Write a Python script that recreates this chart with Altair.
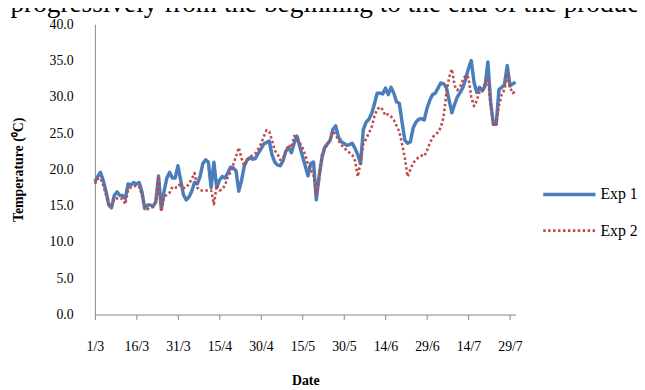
import json
import altair as alt
import pandas as pd

# ---- data ----
tick_labels = ['1/3', '16/3', '31/3', '15/4', '30/4', '15/5', '30/5', '14/6', '29/6', '14/7', '29/7']
tick_days = [0, 15, 30, 45, 60, 75, 90, 105, 120, 135, 150]
y_ticks = [0, 5, 10, 15, 20, 25, 30, 35, 40]
series_names = ['Exp 1', 'Exp 2']

exp1 = [
    18.3, 19.0, 19.6, 18.5, 17.0, 15.1, 14.7, 16.4, 16.9, 16.4,
    16.4, 16.0, 18.0, 17.8, 18.2, 18.0, 18.2, 16.9, 14.6, 15.1,
    15.1, 14.9, 15.5, 19.1, 14.5, 17.0, 18.8, 19.6, 18.8, 18.8,
    20.5, 18.5, 16.5, 15.8, 16.2, 17.0, 18.2, 18.0, 19.0, 20.8,
    21.3, 21.0, 17.5, 21.0, 17.5, 18.5, 19.0, 18.8, 19.5, 20.3,
    20.2, 19.8, 17.0, 18.5, 20.5, 21.3, 21.6, 21.4, 21.5, 22.2,
    22.8, 23.5, 23.7, 23.9, 22.0, 21.0, 20.6, 20.5, 21.2, 22.5,
    23.0, 22.3, 23.6, 24.6, 23.2, 21.8, 20.5, 19.1, 20.8, 21.0,
    15.8, 19.0, 21.5, 23.0, 23.5, 24.0, 25.5, 26.0, 24.5, 23.8,
    23.6, 23.3, 23.4, 23.6, 22.9, 22.0, 20.8, 25.5, 26.5, 26.9,
    27.7, 29.0, 30.5, 30.5, 30.4, 31.2, 30.3, 31.3, 30.5, 29.3,
    29.1, 26.5, 24.0, 23.6, 23.8, 25.7, 26.5, 26.9, 27.0, 26.8,
    28.4, 29.5, 30.3, 30.5, 31.2, 31.9, 31.8, 31.3, 29.5, 27.8,
    29.0, 30.0, 30.6, 31.3, 32.5, 33.9, 35.0, 32.0, 30.6, 31.3,
    30.8, 31.5, 34.8, 29.3, 26.2, 26.2, 31.0, 31.3, 31.7, 34.3,
    31.5, 31.8, 32.0,
]

exp2 = [
    18.0, 18.7, 18.8, 17.8, 16.5, 15.3, 14.9, 16.0, 16.0, 16.1,
    15.9, 15.2, 17.2, 17.5, 17.6, 17.8, 17.6, 16.4, 15.0, 14.5,
    14.8, 14.8, 15.5, 19.0, 14.2, 16.2, 16.5, 16.8, 17.6, 17.5,
    17.5, 18.2, 17.4, 17.5, 18.0, 18.7, 19.5, 17.5, 17.1, 17.1,
    17.1, 17.1, 17.1, 15.2, 17.8, 17.1, 17.2, 17.8, 18.9, 19.6,
    20.7, 21.8, 23.0, 21.5, 20.5, 21.2, 21.8, 21.9, 22.2, 22.8,
    23.5, 24.5, 25.4, 25.2, 24.0, 22.6, 22.1, 21.3, 21.5, 22.5,
    23.4, 23.0, 24.6, 24.4, 23.7, 23.0, 22.0, 20.7, 20.0, 19.2,
    16.5, 18.5, 22.0, 22.8, 23.4, 24.0, 25.3, 24.8, 24.0, 23.4,
    23.0, 22.6, 22.3, 22.0, 21.2, 19.0, 21.0, 23.5, 24.2, 25.0,
    25.8, 27.3, 28.3, 28.6, 28.2, 27.4, 27.6, 27.3, 26.8, 26.0,
    25.2, 23.5, 21.6, 19.0, 20.0, 20.9, 21.3, 21.7, 21.9, 21.8,
    22.6, 23.6, 24.4, 24.8, 25.1, 25.8, 27.2, 30.5, 32.7, 33.8,
    31.5, 30.9, 31.4, 32.3, 33.0, 32.6, 30.0, 28.7, 29.5, 30.7,
    30.9, 31.9, 32.6, 28.8, 26.0, 26.2, 28.8, 30.3, 31.0, 33.2,
    31.3, 30.5, 30.8,
]

header_text = 'progressively from the beginning to the end of the produc'

# ---- build table ----
days = list(range(len(exp1)))
df = pd.concat([
    pd.DataFrame({'day': days, 'temp': exp1, 'series': series_names[0]}),
    pd.DataFrame({'day': list(range(len(exp2))), 'temp': exp2, 'series': series_names[1]}),
])

FONT = 'Liberation Serif'
GREY = '#868686'
label_expr = json.dumps(tick_labels) + '[round(datum.value / 15)]'

legend_args = dict(
    title=None, orient='none', legendX=452, legendY=144,
    symbolType='stroke', symbolSize=2800, symbolStrokeWidth=3,
    labelFont=FONT, labelFontSize=16, labelColor='black', labelOffset=3,
    rowPadding=-17,
)

chart = alt.Chart(df).mark_line(strokeJoin='round').encode(
    x=alt.X('day:Q',
            scale=alt.Scale(domain=[0, 152], nice=False, zero=False),
            axis=alt.Axis(values=tick_days, labelExpr=label_expr, title='Date',
                          grid=False, domainColor=GREY, tickColor=GREY, tickSize=5,
                          labelFont=FONT, labelFontSize=14, labelColor='black',
                          labelPadding=20, labelFlush=False,
                          titleFont=FONT, titleFontSize=14, titleFontWeight='bold',
                          titleColor='black', titlePadding=21)),
    y=alt.Y('temp:Q',
            scale=alt.Scale(domain=[0, 40], nice=False),
            axis=alt.Axis(values=y_ticks, format='.1f', title='Temperature (\u2070C)',
                          grid=False, domainColor=GREY, ticks=False, tickSize=0,
                          labelFont=FONT, labelFontSize=14, labelColor='black',
                          labelPadding=22,
                          titleFont=FONT, titleFontSize=14, titleFontWeight='bold',
                          titleColor='black', titlePadding=24)),
    color=alt.Color('series:N',
                    scale=alt.Scale(domain=series_names, range=['#4A7EBB', '#BE4B48']),
                    legend=alt.Legend(**legend_args)),
    strokeDash=alt.StrokeDash('series:N',
                              scale=alt.Scale(domain=series_names, range=[[1, 0], [2.5, 2.5]]),
                              legend=alt.Legend(**legend_args)),
    strokeWidth=alt.StrokeWidth('series:N',
                                scale=alt.Scale(domain=series_names, range=[3.5, 2.6]),
                                legend=None),
).properties(
    width=426,
    height=294,
    title=alt.TitleParams(header_text, anchor='start', font=FONT, fontSize=27.6,
                          fontWeight='normal', color='black', dx=-1, dy=22, offset=0,
                          baseline='alphabetic'),
    autosize=alt.AutoSizeParams(type='none'),
    padding={'left': 88, 'top': 14, 'right': 123, 'bottom': 74},
    background='white',
).configure_view(stroke=None)

chart.save('out.html', embed_options={'renderer': 'svg', 'actions': False})
